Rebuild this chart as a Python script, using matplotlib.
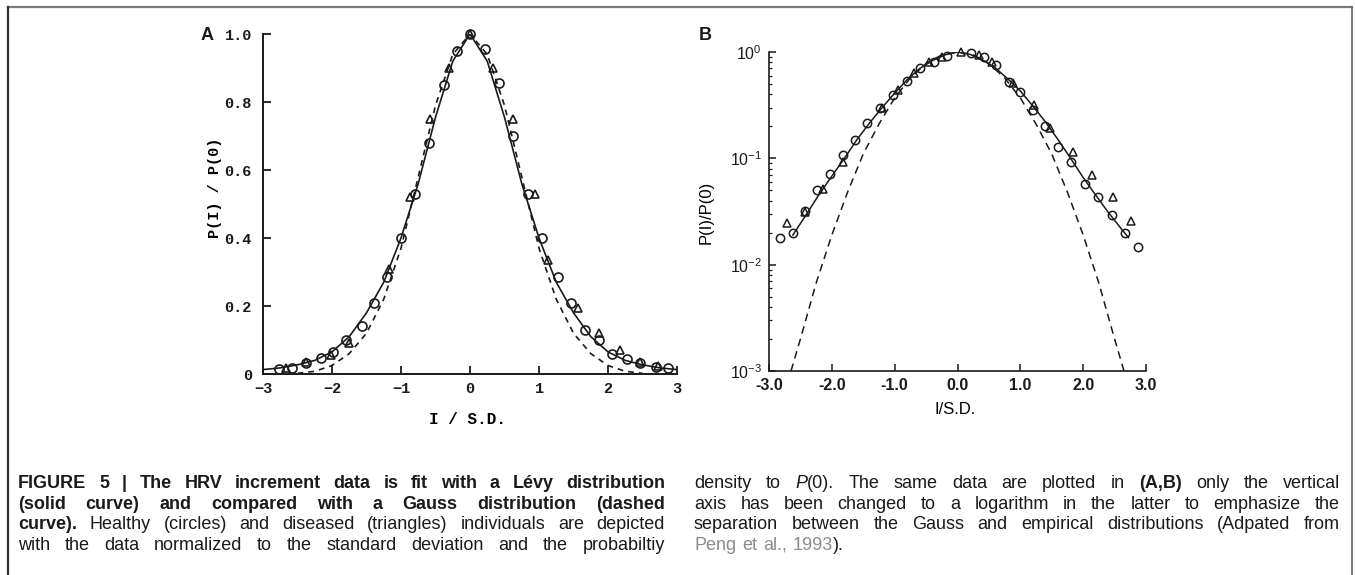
import numpy as np
import matplotlib
matplotlib.use('Agg')
import matplotlib.pyplot as plt
from matplotlib.lines import Line2D
from matplotlib.transforms import IdentityTransform

plt.rcParams['mathtext.fontset'] = 'custom'
plt.rcParams['mathtext.rm'] = 'Liberation Sans'
plt.rcParams['mathtext.default'] = 'rm'

# ---- panel A : linear axis ----
A_circ_x = [-2.77, -2.58, -2.37, -2.16, -1.98, -1.79, -1.57, -1.39, -1.20, -1.00,
            -0.79, -0.59, -0.38, -0.19, 0.0, 0.22, 0.42, 0.62, 0.84, 1.04,
            1.27, 1.46, 1.67, 1.87, 2.06, 2.28, 2.47, 2.69, 2.87]
A_circ_y = [0.015, 0.017, 0.032, 0.047, 0.065, 0.10, 0.14, 0.21, 0.285, 0.40,
            0.53, 0.68, 0.85, 0.95, 1.0, 0.955, 0.855, 0.70, 0.53, 0.40,
            0.285, 0.21, 0.13, 0.10, 0.06, 0.044, 0.033, 0.022, 0.017]
A_tri_x = [-2.67, -2.37, -2.02, -1.76, -1.18, -0.87, -0.58, -0.30, 0.0,
           0.33, 0.62, 0.94, 1.13, 1.56, 1.87, 2.18, 2.47, 2.73]
A_tri_y = [0.018, 0.035, 0.055, 0.09, 0.31, 0.52, 0.75, 0.90, 1.0,
           0.90, 0.75, 0.53, 0.335, 0.195, 0.12, 0.07, 0.035, 0.025]
A_levy_x = [-3.0, -2.75, -2.5, -2.25, -2.0, -1.75, -1.5, -1.25, -1.0, -0.75, -0.5, -0.25, 0.0,
            0.25, 0.5, 0.75, 1.0, 1.25, 1.5, 1.75, 2.0, 2.25, 2.5, 2.75, 3.0]
A_levy_y = [0.013, 0.018, 0.027, 0.04, 0.065, 0.11, 0.18, 0.27, 0.40, 0.56, 0.755, 0.92, 1.0,
            0.92, 0.755, 0.56, 0.40, 0.27, 0.18, 0.11, 0.065, 0.04, 0.027, 0.018, 0.013]
A_gauss_x = [-2.5, -2.25, -2.0, -1.75, -1.5, -1.25, -1.0, -0.75, -0.5, -0.25, 0.0,
             0.25, 0.5, 0.75, 1.0, 1.25, 1.5, 1.75, 2.0, 2.25, 2.5]
A_gauss_y = [0.002, 0.008, 0.025, 0.06, 0.12, 0.22, 0.37, 0.58, 0.79, 0.94, 1.0,
             0.94, 0.79, 0.58, 0.37, 0.22, 0.12, 0.06, 0.025, 0.008, 0.002]
A_xticks = [-3, -2, -1, 0, 1, 2, 3]
A_xlabels = ['\u22123', '\u22122', '\u22121', '0', '1', '2', '3']
A_yticks = [0, 0.2, 0.4, 0.6, 0.8, 1.0]
A_ylabels = ['0', '0.2', '0.4', '0.6', '0.8', '1.0']

# ---- panel B : log axis ----
B_circ_x = [-2.82, -2.62, -2.43, -2.23, -2.03, -1.83, -1.63, -1.44, -1.23, -1.02,
            -0.81, -0.59, -0.38, -0.16, 0.21, 0.42, 0.61, 0.82, 1.00, 1.20,
            1.40, 1.60, 1.80, 2.03, 2.23, 2.46, 2.66, 2.87]
B_circ_y = [0.0178, 0.020, 0.032, 0.050, 0.072, 0.107, 0.149, 0.215, 0.30, 0.395,
            0.53, 0.71, 0.81, 0.92, 0.98, 0.90, 0.76, 0.52, 0.42, 0.285,
            0.20, 0.128, 0.092, 0.057, 0.043, 0.029, 0.020, 0.0148]
B_tri_x = [-2.72, -2.43, -2.14, -1.82, -1.20, -0.95, -0.70, -0.45, -0.25, 0.05,
           0.35, 0.55, 0.89, 1.21, 1.48, 1.84, 2.14, 2.47, 2.76]
B_tri_y = [0.0245, 0.031, 0.052, 0.093, 0.30, 0.44, 0.63, 0.80, 0.90, 0.99,
           0.93, 0.80, 0.51, 0.32, 0.193, 0.115, 0.069, 0.043, 0.026]
B_levy_x = [-2.62, -2.4, -2.2, -2.0, -1.8, -1.6, -1.4, -1.2, -1.0, -0.8, -0.6, -0.4, -0.2, 0.0,
            0.2, 0.4, 0.6, 0.8, 1.0, 1.2, 1.4, 1.6, 1.8, 2.0, 2.2, 2.4, 2.6, 2.72]
B_levy_y = [0.019, 0.030, 0.046, 0.068, 0.10, 0.15, 0.215, 0.30, 0.41, 0.55, 0.70, 0.83, 0.94, 1.0,
            0.95, 0.84, 0.71, 0.56, 0.43, 0.31, 0.22, 0.15, 0.10, 0.066, 0.045, 0.031, 0.022, 0.018]
B_gauss_x = [-2.65, -2.5, -2.25, -2.0, -1.75, -1.5, -1.25, -1.0, -0.75, -0.5, -0.25, 0.0,
             0.25, 0.5, 0.75, 1.0, 1.25, 1.5, 1.75, 2.0, 2.25, 2.5, 2.65]
B_gauss_y = [0.001, 0.002, 0.0067, 0.019, 0.048, 0.11, 0.21, 0.37, 0.57, 0.78, 0.94, 1.0,
             0.94, 0.78, 0.57, 0.37, 0.21, 0.11, 0.048, 0.019, 0.0067, 0.002, 0.001]
B_xticks = [-3, -2, -1, 0, 1, 2, 3]
B_xlabels = ['-3.0', '-2.0', '-1.0', '0.0', '1.0', '2.0', '3.0']
B_yticks = [1e-3, 1e-2, 1e-1, 1]
B_ylabels = [r'$10^{-3}$', r'$10^{-2}$', r'$10^{-1}$', r'$10^{0}$']

# ---- caption, (text, style) per word piece ----
CAP_LEFT = [
    [[('FIGURE', 'b')], [('5', 'b')], [('|', 'b')], [('The', 'b')], [('HRV', 'b')], [('increment', 'b')],
     [('data', 'b')], [('is', 'b')], [('fit', 'b')], [('with', 'b')], [('a', 'b')], [('Lévy', 'b')],
     [('distribution', 'b')]],
    [[(w, 'b')] for w in '(solid curve) and compared with a Gauss distribution (dashed'.split()],
    [[('curve).', 'b')]] + [[(w, 'r')] for w in
                             'Healthy (circles) and diseased (triangles) individuals are depicted'.split()],
    [[(w, 'r')] for w in 'with the data normalized to the standard deviation and the probabiltiy'.split()],
]
CAP_RIGHT = [
    [[('density', 'r')], [('to', 'r')], [('P', 'i'), ('(0).', 'r')], [('The', 'r')], [('same', 'r')],
     [('data', 'r')], [('are', 'r')], [('plotted', 'r')], [('in', 'r')], [('(A,B)', 'b')],
     [('only', 'r')], [('the', 'r')], [('vertical', 'r')]],
    [[(w, 'r')] for w in 'axis has been changed to a logarithm in the latter to emphasize the'.split()],
    [[(w, 'r')] for w in 'separation between the Gauss and empirical distributions (Adpated from'.split()],
    [[('Peng', 'g')], [('et', 'g')], [('al.,', 'g')], [('1993', 'g'), (').', 'r')]],
]

W, H = 1355, 575
CAP_FONT = 'Liberation Sans'
INK = '#1a1a1a'
STYLES = {'r': dict(family=CAP_FONT, color=INK),
          'b': dict(family=CAP_FONT, color=INK, weight='bold'),
          'i': dict(family=CAP_FONT, color=INK, style='italic'),
          'g': dict(family=CAP_FONT, color='#8c8c8c')}


def px_axes(fig, left, top, right, bottom):
    return fig.add_axes([left / W, 1 - bottom / H, (right - left) / W, (bottom - top) / H])


def style_axes(ax, lw=1.4):
    for s in ['top', 'right']:
        ax.spines[s].set_visible(False)
    for s in ['left', 'bottom']:
        ax.spines[s].set_linewidth(lw)
        ax.spines[s].set_color(INK)
    ax.set_facecolor('none')


def caption_line(fig, r, words, x0, x1, ytop, size, justify=True):
    pieces = []
    for word in words:
        segs = []
        for txt, st in word:
            t = fig.text(0, 0, txt, fontsize=size, transform=IdentityTransform(),
                         va='baseline', ha='left', **STYLES[st])
            segs.append((t, t.get_window_extent(r).width))
        pieces.append(segs)
    wsum = sum(w for segs in pieces for _, w in segs)
    if justify and len(pieces) > 1:
        gap = (x1 - x0 - wsum) / (len(pieces) - 1)
    else:
        gap = size * 0.45
    x = x0
    for segs in pieces:
        for t, w in segs:
            t.set_position((x, H - ytop))
            x += w
        x += gap


fig = plt.figure(figsize=(W / 100, H / 100), dpi=100)
fig.patch.set_facecolor('white')

# panel A
axA = px_axes(fig, 263, 34, 677, 374)
style_axes(axA)
axA.plot(A_levy_x, A_levy_y, '-', color=INK, lw=1.2)
axA.plot(A_gauss_x, A_gauss_y, color=INK, lw=1.2, linestyle=(0, (3.5, 3)))
axA.plot(A_circ_x, A_circ_y, 'o', mfc='none', mec=INK, ms=6.5, mew=1.2, clip_on=False)
axA.plot(A_tri_x, A_tri_y, '^', mfc='none', mec=INK, ms=6, mew=1.2, clip_on=False)
axA.set_xlim(-3, 3)
axA.set_ylim(0, 1.0)
axA.set_xticks(A_xticks)
axA.set_xticklabels(A_xlabels, family='Liberation Mono', weight='bold', fontsize=11)
axA.set_yticks(A_yticks)
axA.set_yticklabels(A_ylabels, family='Liberation Mono', weight='bold', fontsize=11)
axA.tick_params(direction='in', length=6, width=1.3, colors=INK)
axA.tick_params(axis='y', pad=8)
axA.tick_params(axis='x', pad=6)
axA.set_ylabel('P(I) / P(0)', family='Liberation Mono', weight='bold', fontsize=11, va='center')
axA.yaxis.set_label_coords(-0.116, 0.547)
axA.set_xlabel('I / S.D.', family='Liberation Mono', weight='bold', fontsize=11.5, va='center')
axA.xaxis.set_label_coords(0.493, -0.135)

# panel B
axB = px_axes(fig, 769, 52, 1146, 371)
style_axes(axB, lw=1.2)
axB.set_yscale('log')
axB.plot(B_levy_x, B_levy_y, '-', color=INK, lw=1.1)
axB.plot(B_gauss_x, B_gauss_y, color=INK, lw=1.1, linestyle=(0, (5, 3.5)))
axB.plot(B_circ_x, B_circ_y, 'o', mfc='none', mec=INK, ms=6, mew=1.1, clip_on=False)
axB.plot(B_tri_x, B_tri_y, '^', mfc='none', mec=INK, ms=5.5, mew=1.1, clip_on=False)
axB.set_xlim(-3, 3)
axB.set_ylim(1e-3, 1)
axB.set_xticks(B_xticks)
axB.set_xticklabels(B_xlabels, family='Liberation Sans', weight='bold', fontsize=11.5)
axB.set_yticks(B_yticks)
axB.set_yticklabels(B_ylabels, fontsize=11.5)
axB.tick_params(direction='in', length=5, width=1.1, colors=INK, pad=5)
axB.tick_params(which='minor', direction='in', length=2.5, width=0.9, colors=INK)
axB.set_ylabel('P(I)/P(0)', family='Liberation Sans', fontsize=12, va='center')
axB.yaxis.set_label_coords(-0.168, 0.498)
axB.set_xlabel('I/S.D.', family='Liberation Sans', fontsize=12, va='center')
axB.xaxis.set_label_coords(0.495, -0.122)

# panel letters
fig.text(207 / W, 1 - 35 / H, 'A', family='Liberation Sans', weight='bold', fontsize=13,
         ha='center', va='center', color=INK)
fig.text(705 / W, 1 - 35 / H, 'B', family='Liberation Sans', weight='bold', fontsize=13,
         ha='center', va='center', color=INK)

# frame around the figure
tr = IdentityTransform()
fig.add_artist(Line2D([8, 1352], [H - 7, H - 7], transform=tr, color='#7a7a7a', lw=1.6))
fig.add_artist(Line2D([8, 8], [0, H - 7], transform=tr, color='#333333', lw=1.6))
fig.add_artist(Line2D([1352, 1352], [0, H - 7], transform=tr, color='#666666', lw=1.2))

# caption (two justified columns)
r = fig.canvas.get_renderer()
line_y = [488, 509, 529, 550]
for i, words in enumerate(CAP_LEFT):
    caption_line(fig, r, words, 18, 665, line_y[i], 13)
for i, words in enumerate(CAP_RIGHT):
    caption_line(fig, r, words, 694, 1340, line_y[i], 13, justify=(i < 3))

fig.savefig('out.png', dpi=100)
